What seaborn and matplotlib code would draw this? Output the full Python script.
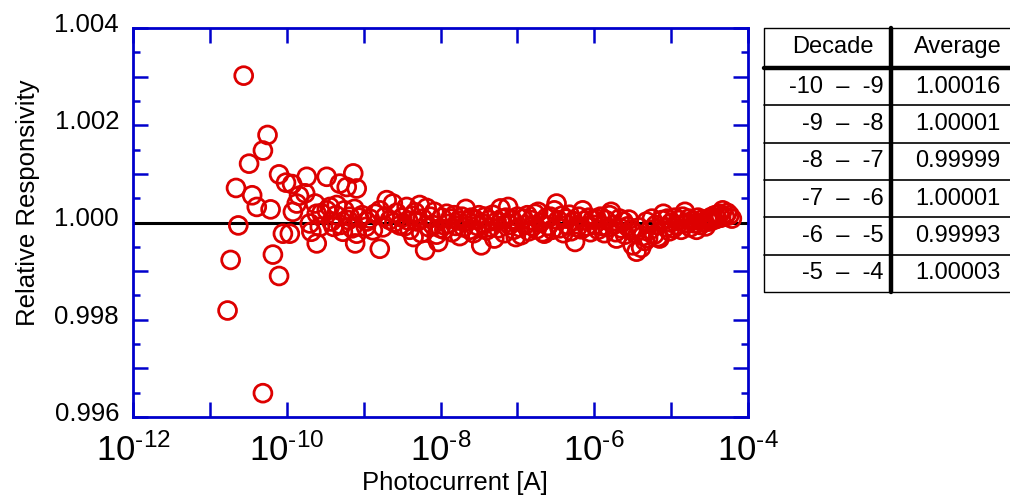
import numpy as np
import pandas as pd
import matplotlib as mpl
mpl.use('Agg')
import matplotlib.pyplot as plt
import matplotlib.transforms as mtransforms
import seaborn as sns

# ============================================ #
# data
# ============================================ #

# log10 of photocurrent [A]
log10_current = [
    -10.77, -10.73, -10.66, -10.63, -10.56, -10.49, -10.45, -10.39, -10.31, -10.31,
    -10.25, -10.21, -10.18, -10.10, -10.10, -10.05, -10.01, -9.96, -9.93, -9.92,
    -9.87, -9.84, -9.76, -9.74, -9.70, -9.68, -9.63, -9.61, -9.61, -9.57,
    -9.55, -9.48, -9.48, -9.44, -9.42, -9.39, -9.36, -9.35, -9.31, -9.30,
    -9.27, -9.25, -9.22, -9.20, -9.18, -9.15, -9.135, -9.12, -9.11, -9.09,
    -9.09, -9.06, -9.02, -8.97, -8.96, -8.92, -8.88, -8.85, -8.79, -8.79,
    -8.75, -8.72, -8.70, -8.66, -8.62, -8.60, -8.57, -8.53, -8.50, -8.47,
    -8.44, -8.42, -8.40, -8.37, -8.35, -8.33, -8.30, -8.27, -8.25, -8.23,
    -8.20, -8.18, -8.15, -8.13, -8.10, -8.08, -8.05, -8.03, -8.00,
    # -8 .. -7
    -7.98, -7.95, -7.92, -7.90, -7.87, -7.85, -7.82, -7.80, -7.77, -7.75,
    -7.72, -7.70, -7.67, -7.65, -7.62, -7.60, -7.57, -7.55, -7.52, -7.50,
    -7.47, -7.45, -7.42, -7.40, -7.37, -7.35, -7.32, -7.30, -7.27, -7.25,
    -7.22, -7.20, -7.17, -7.15, -7.12, -7.10, -7.07, -7.05, -7.02, -7.00,
    # -7 .. -6
    -6.97, -6.95, -6.92, -6.90, -6.87, -6.85, -6.82, -6.80, -6.77, -6.75,
    -6.73, -6.70, -6.67, -6.65, -6.62, -6.60, -6.57, -6.55, -6.52, -6.49,
    -6.47, -6.45, -6.42, -6.40, -6.37, -6.35, -6.32, -6.30, -6.27, -6.25,
    -6.22, -6.20, -6.17, -6.15, -6.12, -6.10, -6.07, -6.05, -6.02, -6.00,
    # -6 .. -5
    -5.97, -5.95, -5.92, -5.90, -5.87, -5.85, -5.82, -5.80, -5.78, -5.75,
    -5.72, -5.71, -5.67, -5.65, -5.62, -5.60, -5.57, -5.55, -5.52, -5.50,
    -5.47, -5.45, -5.42, -5.39, -5.37, -5.34, -5.32, -5.30, -5.27, -5.25,
    -5.22, -5.20, -5.17, -5.15, -5.12, -5.10, -5.07, -5.05, -5.02,
    # -5 .. -4
    -5.00, -4.97, -4.95, -4.92, -4.90, -4.87, -4.85, -4.82, -4.80, -4.77,
    -4.75, -4.72, -4.69, -4.67, -4.65, -4.62, -4.60, -4.57, -4.55, -4.52,
    -4.50, -4.47, -4.45, -4.43, -4.40, -4.37, -4.35, -4.33, -4.30, -4.27,
    -4.24, -4.21,
]

responsivity = [
    0.99819, 0.99923, 1.00071, 0.99994, 1.00302, 1.00121, 1.00056, 1.00032, 1.00148, 0.99649,
    1.00180, 1.00027, 0.99934, 1.00099, 0.99890, 0.99977, 1.00082, 0.99977, 1.00079, 1.00022,
    1.00039, 1.00055, 1.00060, 1.00094, 0.99998, 0.99981, 1.00039, 1.00018, 0.99957, 0.99991,
    1.00019, 1.00094, 1.00025, 1.00032, 1.00002, 0.99991, 1.00015, 1.00036, 1.00080, 0.99995,
    0.99981, 1.00025, 1.00073, 1.00005, 1.00012, 0.99988, 1.00101, 1.00028, 0.99957, 1.00070,
    0.99977, 1.00010, 1.00015, 0.99991, 1.00002, 1.00008, 0.99984, 1.00018, 1.00025, 0.99946,
    0.99990, 1.00012, 1.00046, 1.00005, 1.00039, 1.00000, 1.00020, 0.99994, 1.00010, 0.99992,
    1.00032, 1.00004, 0.99985, 1.00014, 0.99970, 1.00021, 1.00002, 1.00036, 0.99978, 1.00008,
    0.99943, 1.00030, 0.99990, 1.00012, 0.99995, 1.00022, 0.99975, 0.99960, 0.99988,
    # -8 .. -7
    1.00010, 0.99985, 1.00018, 0.99997, 1.00008, 0.99980, 1.00015, 0.99993, 1.00004, 0.99972,
    1.00012, 0.99990, 1.00028, 1.00003, 0.99985, 1.00010, 0.99978, 1.00006, 0.99993, 1.00015,
    0.99953, 0.99998, 1.00012, 0.99984, 1.00005, 0.99990, 1.00016, 0.99967, 1.00002, 0.99988,
    1.00029, 1.00008, 0.99978, 1.00010, 1.00032, 0.99995, 1.00006, 0.99985, 0.99970, 1.00012,
    # -7 .. -6
    0.99990, 0.99974, 1.00008, 0.99995, 1.00015, 0.99982, 1.00005, 0.99992, 1.00018, 0.99986,
    1.00022, 1.00000, 0.99980, 0.99977, 1.00010, 0.99993, 1.00012, 0.99985, 1.00025, 1.00039,
    1.00005, 0.99988, 1.00014, 0.99978, 1.00008, 0.99995, 1.00016, 0.99982, 1.00003, 0.99960,
    0.99990, 1.00012, 0.99986, 1.00025, 1.00004, 0.99992, 1.00010, 0.99980, 1.00006, 0.99995,
    # -6 .. -5
    1.00008, 0.99985, 1.00012, 0.99993, 0.99978, 1.00005, 0.99990, 1.00015, 1.00022, 0.99995,
    0.99980, 0.99967, 1.00008, 0.99988, 1.00002, 0.99975, 0.99992, 1.00006, 0.99985, 0.99953,
    0.99978, 0.99940, 0.99990, 0.99948, 0.99972, 0.99962, 1.00002, 0.99968, 0.99985, 1.00008,
    0.99975, 0.99995, 0.99970, 0.99967, 1.00005, 1.00018, 0.99990, 1.00008, 0.99982,
    # -5 .. -4
    1.00000, 0.99988, 1.00010, 0.99995, 1.00005, 0.99985, 1.00012, 1.00022, 0.99998, 1.00008,
    0.99990, 1.00004, 0.99998, 0.99985, 1.00010, 0.99995, 1.00006, 1.00000, 0.99992, 1.00008,
    1.00002, 1.00012, 1.00005, 1.00015, 1.00008, 1.00018, 1.00010, 1.00025, 1.00012, 1.00020,
    1.00015, 1.00008,
]

# summary table
decades = ['-10  \u2013  -9', '-9  \u2013  -8', '-8  \u2013  -7',
           '-7  \u2013  -6', '-6  \u2013  -5', '-5  \u2013  -4']
averages = ['1.00016', '1.00001', '0.99999', '1.00001', '0.99993', '1.00003']

x_tick_exp = [-12, -11, -10, -9, -8, -7, -6, -5, -4]
y_major = [0.996, 0.997, 0.998, 0.999, 1.000, 1.001, 1.002, 1.003, 1.004]
y_minor = [0.9965, 0.9975, 0.9985, 0.9995, 1.0005, 1.0015, 1.0025, 1.0035]

df = pd.DataFrame({'current': 10.0 ** np.array(log10_current),
                   'resp': responsivity})

# ============================================ #
# style
# ============================================ #
sns.set_style('ticks')
plt.rcParams['font.family'] = ['Liberation Sans', 'DejaVu Sans']
plt.rcParams['mathtext.fontset'] = 'custom'
plt.rcParams['mathtext.rm'] = 'Liberation Sans'
plt.rcParams['mathtext.it'] = 'Liberation Sans:italic'
plt.rcParams['mathtext.bf'] = 'Liberation Sans:bold'
plt.rcParams['text.color'] = 'black'
plt.rcParams['axes.labelcolor'] = 'black'

blue = '#0000cc'
red = '#dd0000'

fig = plt.figure(figsize=(10.1, 4.99), dpi=100)
ax = fig.add_axes([133 / 1010, 1 - 417 / 499, 615 / 1010, 389 / 499])

ax.axhline(1.0, color='black', lw=2.2, zorder=1)
sns.scatterplot(data=df, x='current', y='resp', marker='o', s=165,
                facecolor='none', edgecolor=red, linewidth=2.0,
                legend=False, ax=ax, zorder=2)

ax.set_xscale('log')
ax.set_xlim(1e-12, 1e-4)
ax.set_ylim(0.996, 1.004)

ax.set_xticks([10.0 ** e for e in x_tick_exp])
ax.set_xticklabels([r'$10^{\text{-}%d}$' % -e if e % 2 == 0 else '' for e in x_tick_exp])
ax.xaxis.set_minor_locator(mpl.ticker.NullLocator())
ax.set_yticks(y_major)
ax.set_yticklabels(['%.3f' % v if i % 2 == 0 else '' for i, v in enumerate(y_major)])
ax.set_yticks(y_minor, minor=True)

ax.tick_params(which='both', direction='in', top=True, right=True,
               color=blue, width=1.8, labelcolor='black')
ax.tick_params(which='major', length=11)
ax.tick_params(which='minor', length=5)
ax.tick_params(axis='x', labelsize=25, pad=12)
ax.tick_params(axis='y', labelsize=18.5, pad=10)
for sp in ax.spines.values():
    sp.set_color(blue)
    sp.set_linewidth(2.0)

# y tick labels sit a little above their ticks in the original
shift = mtransforms.ScaledTranslation(0, 4 / 72, fig.dpi_scale_trans)
for lab in ax.get_yticklabels():
    lab.set_transform(lab.get_transform() + shift)

ax.set_xlabel('Photocurrent [A]', fontsize=18.5)
ax.set_ylabel('Relative Responsivity', fontsize=18.5)
ax.xaxis.set_label_coords(0.524, -0.138)
ax.yaxis.set_label_coords(-0.152, 0.55)

# ============================================ #
# table of decade averages
# ============================================ #
tx = fig.add_axes([764 / 1010, 1 - 292 / 499, 248 / 1010, 264 / 499])
tx.set_xlim(0, 248)
tx.set_ylim(264, 0)
tx.axis('off')

head_h = 40
row_h = (264 - head_h) / len(decades)
split = 127

# frame and grid
tx.plot([248, 0, 0, 248], [0, 0, 264, 264], color='black', lw=1.0,
        clip_on=False)
tx.plot([0, 248], [head_h, head_h], color='black', lw=3.2, clip_on=False)
for i in range(1, len(decades)):
    yy = head_h + i * row_h
    tx.plot([0, 248], [yy, yy], color='black', lw=1.2, clip_on=False)
tx.plot([split, split], [0, 264], color='black', lw=3.2, clip_on=False)

tx.text(69, head_h / 2 - 1, 'Decade', ha='center', va='center', fontsize=17)
tx.text(194, head_h / 2 - 1, 'Average', ha='center', va='center', fontsize=17)
for i, (d, a) in enumerate(zip(decades, averages)):
    yc = head_h + (i + 0.5) * row_h
    tx.text(120, yc, d, ha='right', va='center', fontsize=17)
    tx.text(194, yc, a, ha='center', va='center', fontsize=17)

fig.savefig('out.png', dpi=100)
